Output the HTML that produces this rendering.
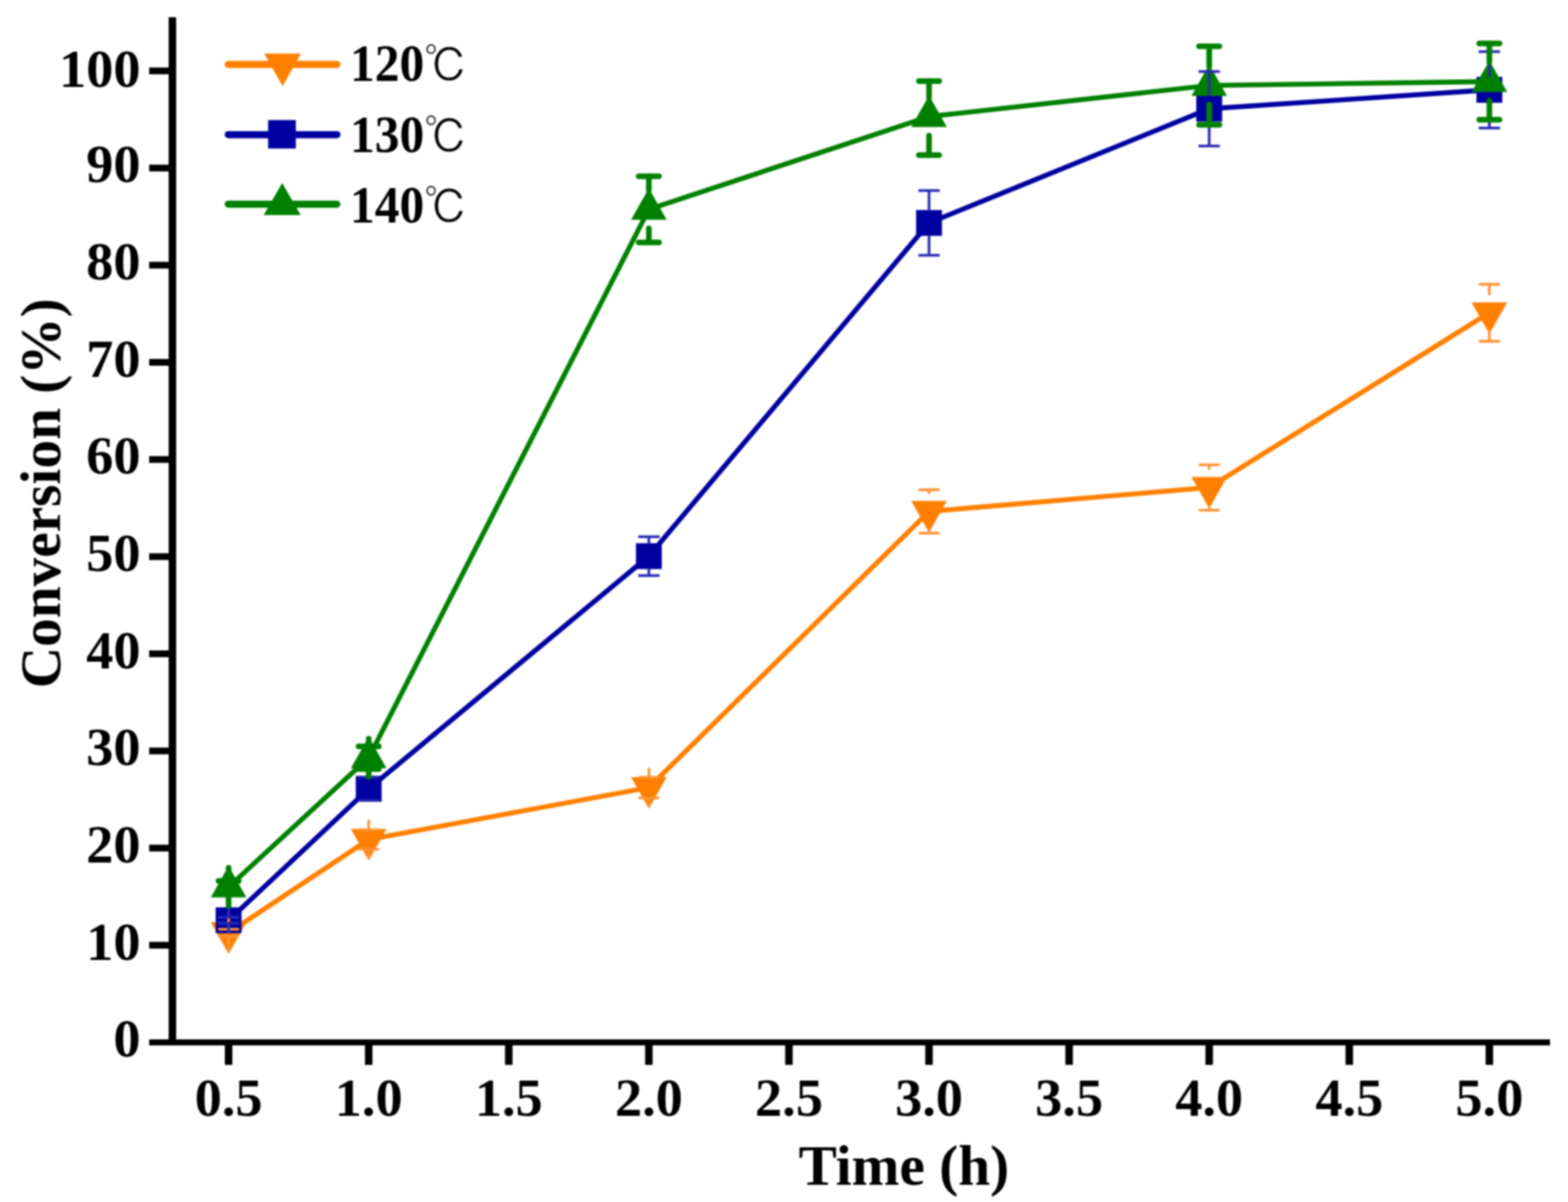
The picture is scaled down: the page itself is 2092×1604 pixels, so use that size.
<!DOCTYPE html>
<html><head><meta charset="utf-8"><title>Conversion vs Time</title><style>
html,body{margin:0;padding:0;background:#fff;overflow:hidden}svg{display:block}#wrap{filter:blur(1px)}
text{font-family:"Liberation Serif","Noto Serif CJK SC",serif;font-weight:bold;fill:#000}
.deg{font-family:"IPAGothic","Noto Sans CJK JP",sans-serif;font-weight:normal}
</style></head><body><div id="wrap">
<svg width="2092" height="1604" viewBox="0 0 2092 1604">
<rect width="2092" height="1604" fill="#fff"/>
<g stroke="#000">
<line x1="230" y1="23" x2="230" y2="1395" stroke-width="10"/>
<line x1="199" y1="1391" x2="2068" y2="1391" stroke-width="8"/>
<line x1="199" y1="1261.36" x2="230" y2="1261.36" stroke-width="9"/>
<line x1="199" y1="1131.72" x2="230" y2="1131.72" stroke-width="9"/>
<line x1="199" y1="1002.08" x2="230" y2="1002.08" stroke-width="9"/>
<line x1="199" y1="872.44" x2="230" y2="872.44" stroke-width="9"/>
<line x1="199" y1="742.8" x2="230" y2="742.8" stroke-width="9"/>
<line x1="199" y1="613.16" x2="230" y2="613.16" stroke-width="9"/>
<line x1="199" y1="483.52" x2="230" y2="483.52" stroke-width="9"/>
<line x1="199" y1="353.88" x2="230" y2="353.88" stroke-width="9"/>
<line x1="199" y1="224.24" x2="230" y2="224.24" stroke-width="9"/>
<line x1="199" y1="94.6" x2="230" y2="94.6" stroke-width="9"/>
<line x1="305" y1="1391" x2="305" y2="1421" stroke-width="10"/>
<line x1="491.9" y1="1391" x2="491.9" y2="1421" stroke-width="10"/>
<line x1="678.8" y1="1391" x2="678.8" y2="1421" stroke-width="10"/>
<line x1="865.7" y1="1391" x2="865.7" y2="1421" stroke-width="10"/>
<line x1="1052.6" y1="1391" x2="1052.6" y2="1421" stroke-width="10"/>
<line x1="1239.5" y1="1391" x2="1239.5" y2="1421" stroke-width="10"/>
<line x1="1426.4" y1="1391" x2="1426.4" y2="1421" stroke-width="10"/>
<line x1="1613.3" y1="1391" x2="1613.3" y2="1421" stroke-width="10"/>
<line x1="1800.2" y1="1391" x2="1800.2" y2="1421" stroke-width="10"/>
<line x1="1987.1" y1="1391" x2="1987.1" y2="1421" stroke-width="10"/>
</g>
<g font-size="72.5" text-anchor="end">
<text x="187.5" y="1410.2">0</text>
<text x="187.5" y="1280.56">10</text>
<text x="187.5" y="1150.92">20</text>
<text x="187.5" y="1021.28">30</text>
<text x="187.5" y="891.64">40</text>
<text x="187.5" y="762">50</text>
<text x="187.5" y="632.36">60</text>
<text x="187.5" y="502.72">70</text>
<text x="187.5" y="373.08">80</text>
<text x="187.5" y="243.44">90</text>
<text x="187.5" y="115.6">100</text>
</g>
<g font-size="72.5" text-anchor="middle">
<text x="305" y="1489">0.5</text>
<text x="491.9" y="1489">1.0</text>
<text x="678.8" y="1489">1.5</text>
<text x="865.7" y="1489">2.0</text>
<text x="1052.6" y="1489">2.5</text>
<text x="1239.5" y="1489">3.0</text>
<text x="1426.4" y="1489">3.5</text>
<text x="1613.3" y="1489">4.0</text>
<text x="1800.2" y="1489">4.5</text>
<text x="1987.1" y="1489">5.0</text>
</g>
<text x="1206" y="1580.5" font-size="76.5" text-anchor="middle">Time (h)</text>
<text transform="translate(80,658.3) rotate(-90)" font-size="76.5" text-anchor="middle">Conversion (%)</text>
<polyline points="305,1244.77 491.9,1120.31 865.7,1050.95 1239.5,682.52 1613.3,650.5 1987.1,417.4" fill="none" stroke="#FF8000" stroke-width="6.6" stroke-linejoin="round"/>
<g fill="#FF8000"><polygon points="281.25,1230.77 328.75,1230.77 305,1272.77"/><polygon points="468.15,1106.31 515.65,1106.31 491.9,1148.31"/><polygon points="841.95,1036.95 889.45,1036.95 865.7,1078.95"/><polygon points="1215.75,668.52 1263.25,668.52 1239.5,710.52"/><polygon points="1589.55,636.5 1637.05,636.5 1613.3,678.5"/><polygon points="1963.35,403.4 2010.85,403.4 1987.1,445.4"/></g>
<polyline points="305,1228.04 491.9,1052.64 865.7,742.15 1239.5,297.49 1613.3,145.16 1987.1,119.88" fill="none" stroke="#0000A0" stroke-width="6.6" stroke-linejoin="round"/>
<g fill="#0000A0"><rect x="287.75" y="1210.79" width="34.5" height="34.5"/><rect x="474.65" y="1035.39" width="34.5" height="34.5"/><rect x="848.45" y="724.9" width="34.5" height="34.5"/><rect x="1222.25" y="280.24" width="34.5" height="34.5"/><rect x="1596.05" y="127.91" width="34.5" height="34.5"/><rect x="1969.85" y="102.63" width="34.5" height="34.5"/></g>
<polyline points="305,1183.58 491.9,1011.15 865.7,279.34 1239.5,155.53 1613.3,114.05 1987.1,108.86" fill="none" stroke="#008000" stroke-width="6.6" stroke-linejoin="round"/>
<g fill="#008000"><polygon points="305,1155.58 281.25,1197.58 328.75,1197.58"/><polygon points="491.9,983.15 468.15,1025.15 515.65,1025.15"/><polygon points="865.7,251.34 841.95,293.34 889.45,293.34"/><polygon points="1239.5,127.53 1215.75,169.53 1263.25,169.53"/><polygon points="1613.3,86.05 1589.55,128.05 1637.05,128.05"/><polygon points="1987.1,80.86 1963.35,122.86 2010.85,122.86"/></g>
<g stroke="#FF9233" stroke-width="3.6" stroke-linecap="round"><line x1="305" y1="1219.77" x2="305" y2="1239.97"/><line x1="292.5" y1="1239.97" x2="317.5" y2="1239.97"/><line x1="305" y1="1269.77" x2="305" y2="1249.56"/><line x1="292.5" y1="1249.56" x2="317.5" y2="1249.56"/></g>
<g stroke="#FF9233" stroke-width="3.6" stroke-linecap="round"><line x1="491.9" y1="1095.31" x2="491.9" y2="1107.35"/><line x1="479.4" y1="1107.35" x2="504.4" y2="1107.35"/><line x1="491.9" y1="1145.31" x2="491.9" y2="1133.28"/><line x1="479.4" y1="1133.28" x2="504.4" y2="1133.28"/></g>
<g stroke="#FF9233" stroke-width="3.6" stroke-linecap="round"><line x1="865.7" y1="1025.95" x2="865.7" y2="1037.21"/><line x1="853.2" y1="1037.21" x2="878.2" y2="1037.21"/><line x1="865.7" y1="1075.95" x2="865.7" y2="1064.7"/><line x1="853.2" y1="1064.7" x2="878.2" y2="1064.7"/></g>
<g stroke="#FF9233" stroke-width="3.6" stroke-linecap="round"><line x1="1239.5" y1="657.52" x2="1239.5" y2="653.61"/><line x1="1227" y1="653.61" x2="1252" y2="653.61"/><line x1="1239.5" y1="707.52" x2="1239.5" y2="711.43"/><line x1="1227" y1="711.43" x2="1252" y2="711.43"/></g>
<g stroke="#FF9233" stroke-width="3.6" stroke-linecap="round"><line x1="1613.3" y1="625.5" x2="1613.3" y2="620.29"/><line x1="1600.8" y1="620.29" x2="1625.8" y2="620.29"/><line x1="1613.3" y1="675.5" x2="1613.3" y2="680.7"/><line x1="1600.8" y1="680.7" x2="1625.8" y2="680.7"/></g>
<g stroke="#FF9233" stroke-width="3.6" stroke-linecap="round"><line x1="1987.1" y1="392.4" x2="1987.1" y2="379.42"/><line x1="1974.6" y1="379.42" x2="1999.6" y2="379.42"/><line x1="1987.1" y1="442.4" x2="1987.1" y2="455.39"/><line x1="1974.6" y1="455.39" x2="1999.6" y2="455.39"/></g>
<g stroke="#2A2AB4" stroke-width="3.6" stroke-linecap="butt"><line x1="305" y1="1210.79" x2="305" y2="1224.15"/><line x1="290.75" y1="1224.15" x2="319.25" y2="1224.15"/><line x1="305" y1="1245.29" x2="305" y2="1231.93"/><line x1="290.75" y1="1231.93" x2="319.25" y2="1231.93"/></g>
<g stroke="#2A2AB4" stroke-width="3.6" stroke-linecap="butt"><line x1="491.9" y1="1035.39" x2="491.9" y2="1037.08"/><line x1="477.65" y1="1037.08" x2="506.15" y2="1037.08"/><line x1="491.9" y1="1069.89" x2="491.9" y2="1068.2"/><line x1="477.65" y1="1068.2" x2="506.15" y2="1068.2"/></g>
<g stroke="#2A2AB4" stroke-width="3.6" stroke-linecap="butt"><line x1="865.7" y1="724.9" x2="865.7" y2="716.22"/><line x1="851.45" y1="716.22" x2="879.95" y2="716.22"/><line x1="865.7" y1="759.4" x2="865.7" y2="768.08"/><line x1="851.45" y1="768.08" x2="879.95" y2="768.08"/></g>
<g stroke="#2A2AB4" stroke-width="3.6" stroke-linecap="butt"><line x1="1239.5" y1="280.24" x2="1239.5" y2="254.32"/><line x1="1225.25" y1="254.32" x2="1253.75" y2="254.32"/><line x1="1239.5" y1="314.74" x2="1239.5" y2="340.66"/><line x1="1225.25" y1="340.66" x2="1253.75" y2="340.66"/></g>
<g stroke="#2A2AB4" stroke-width="3.6" stroke-linecap="butt"><line x1="1613.3" y1="127.91" x2="1613.3" y2="95.51"/><line x1="1599.05" y1="95.51" x2="1627.55" y2="95.51"/><line x1="1613.3" y1="162.41" x2="1613.3" y2="194.81"/><line x1="1599.05" y1="194.81" x2="1627.55" y2="194.81"/></g>
<g stroke="#2A2AB4" stroke-width="3.6" stroke-linecap="butt"><line x1="1987.1" y1="102.63" x2="1987.1" y2="68.93"/><line x1="1972.85" y1="68.93" x2="2001.35" y2="68.93"/><line x1="1987.1" y1="137.13" x2="1987.1" y2="170.83"/><line x1="1972.85" y1="170.83" x2="2001.35" y2="170.83"/></g>
<g stroke="#008000" stroke-width="7.5" stroke-linecap="round"><line x1="305" y1="1158.08" x2="305" y2="1175.54"/><line x1="291.5" y1="1175.54" x2="318.5" y2="1175.54"/><line x1="305" y1="1209.08" x2="305" y2="1191.61"/><line x1="291.5" y1="1191.61" x2="318.5" y2="1191.61"/></g>
<g stroke="#008000" stroke-width="7.5" stroke-linecap="round"><line x1="491.9" y1="985.65" x2="491.9" y2="995.99"/><line x1="478.4" y1="995.99" x2="505.4" y2="995.99"/><line x1="491.9" y1="1036.65" x2="491.9" y2="1026.32"/><line x1="478.4" y1="1026.32" x2="505.4" y2="1026.32"/></g>
<g stroke="#008000" stroke-width="7.5" stroke-linecap="round"><line x1="865.7" y1="253.84" x2="865.7" y2="235.26"/><line x1="852.2" y1="235.26" x2="879.2" y2="235.26"/><line x1="865.7" y1="304.84" x2="865.7" y2="323.41"/><line x1="852.2" y1="323.41" x2="879.2" y2="323.41"/></g>
<g stroke="#008000" stroke-width="7.5" stroke-linecap="round"><line x1="1239.5" y1="130.03" x2="1239.5" y2="108.14"/><line x1="1226" y1="108.14" x2="1253" y2="108.14"/><line x1="1239.5" y1="181.03" x2="1239.5" y2="206.92"/><line x1="1226" y1="206.92" x2="1253" y2="206.92"/></g>
<g stroke="#008000" stroke-width="7.5" stroke-linecap="round"><line x1="1613.3" y1="88.55" x2="1613.3" y2="61.67"/><line x1="1599.8" y1="61.67" x2="1626.8" y2="61.67"/><line x1="1613.3" y1="139.55" x2="1613.3" y2="166.42"/><line x1="1599.8" y1="166.42" x2="1626.8" y2="166.42"/></g>
<g stroke="#008000" stroke-width="7.5" stroke-linecap="round"><line x1="1987.1" y1="83.36" x2="1987.1" y2="58.04"/><line x1="1973.6" y1="58.04" x2="2000.6" y2="58.04"/><line x1="1987.1" y1="134.36" x2="1987.1" y2="159.68"/><line x1="1973.6" y1="159.68" x2="2000.6" y2="159.68"/></g>
<line x1="304.5" y1="86" x2="449.5" y2="86" stroke="#FF8000" stroke-width="9.5" stroke-linecap="round"/>
<polygon fill="#FF8000" points="352.5,71.5 401.5,71.5 377,115"/>
<text transform="translate(467,107.6) scale(1,1.055)" font-size="66">120<tspan class="deg" font-size="59" dx="-0.5" dy="2.4" stroke="#fff" stroke-width="0.9">℃</tspan></text>
<line x1="304.5" y1="179.7" x2="449.5" y2="179.7" stroke="#0000A0" stroke-width="9.5" stroke-linecap="round"/>
<rect fill="#0000A0" x="357.7" y="160.2" width="37" height="38"/>
<text transform="translate(467,202.6) scale(1,1.055)" font-size="66">130<tspan class="deg" font-size="59" dx="-0.5" dy="2.4" stroke="#fff" stroke-width="0.9">℃</tspan></text>
<line x1="304.5" y1="272.5" x2="449.5" y2="272.5" stroke="#008000" stroke-width="9.5" stroke-linecap="round"/>
<polygon fill="#008000" points="376.5,244.3 351.8,287 401.2,287"/>
<text transform="translate(467,296.6) scale(1,1.055)" font-size="66">140<tspan class="deg" font-size="59" dx="-0.5" dy="2.4" stroke="#fff" stroke-width="0.9">℃</tspan></text>
</svg></div></body></html>
